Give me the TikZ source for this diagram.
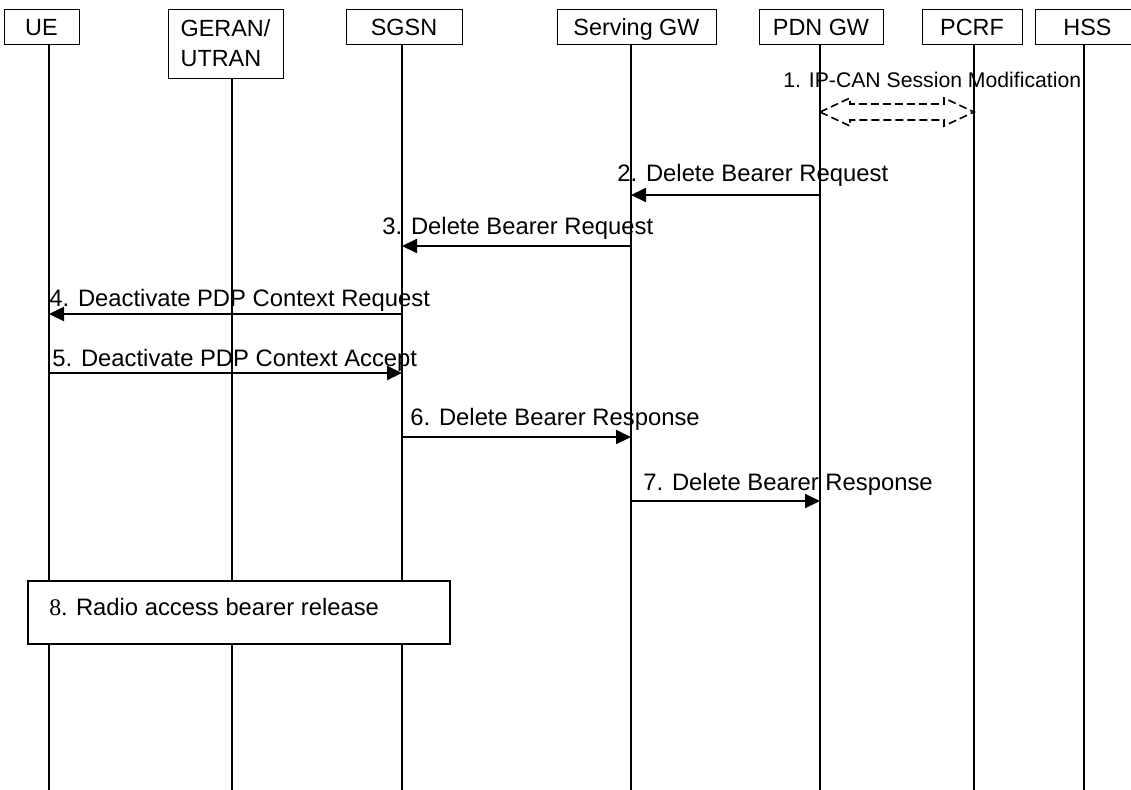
\documentclass[tikz,border=0pt]{standalone}
\usepackage{fontspec}
\setmainfont{Liberation Sans}
\newfontfamily\rabnumfont{Liberation Serif}
\usetikzlibrary{arrows.meta}
\tikzset{%
  myentity/.style={draw=black, line width=0.5pt, minimum height=17.5pt, inner sep=0pt, text height=9pt, text depth=0.5pt, font=\fontsize{11.7}{15}\selectfont},
  mylife/.style={line width=0.8pt},
  mymsg/.style={-{Triangle[length=7.5pt,width=7pt]}, line width=1pt},
  mylabel/.style={anchor=base west, inner sep=0pt, font=\fontsize{11.9}{14}\selectfont},
  mydarrow/.style={dash pattern=on 4pt off 2pt, line width=0.8pt},
  myaction/.style={draw=black, fill=white, line width=0.6pt, minimum width=211pt, minimum height=31.5pt}
}

\begin{document}
\begin{tikzpicture}[x=0.5pt,y=-0.5pt]
  \useasboundingbox (0,0) rectangle (1131,789);
  \node[myentity, minimum width=37.5pt] (ue) at (41.5,26.5) {UE};
  \node[myentity, minimum width=57.5pt, minimum height=34.5pt, text height={}, text depth={}, align=left] (geran) at (225.5,43.5) {GERAN/\\UTRAN};
  \node[myentity, minimum width=58pt] (sgsn) at (404,26.5) {SGSN};
  \node[myentity, minimum width=79.5pt] (sgw) at (636.5,26.5) {Serving GW};
  \node[myentity, minimum width=62pt] (pgw) at (821,26.5) {PDN GW};
  \node[myentity, minimum width=50pt] (pcrf) at (972,26.5) {PCRF};
  \node[myentity, minimum width=52.5pt] (hss) at (1087.5,26.5) {HSS};
  \coordinate (ue-l) at (49,0);
  \coordinate (geran-l) at (232,0);
  \coordinate (sgsn-l) at (402,0);
  \coordinate (sgw-l) at (631,0);
  \coordinate (pgw-l) at (820,0);
  \coordinate (pcrf-l) at (974,0);
  \coordinate (hss-l) at (1084,0);
  \coordinate (bot) at (0,800);
  \draw[mylife] (ue.south -| ue-l) -- (bot -| ue-l);
  \draw[mylife] (geran.south -| geran-l) -- (bot -| geran-l);
  \draw[mylife] (sgsn.south -| sgsn-l) -- (bot -| sgsn-l);
  \draw[mylife] (sgw.south -| sgw-l) -- (bot -| sgw-l);
  \draw[mylife] (pgw.south -| pgw-l) -- (bot -| pgw-l);
  \draw[mylife] (pcrf.south -| pcrf-l) -- (bot -| pcrf-l);
  \draw[mylife] (hss.south -| hss-l) -- (bot -| hss-l);
  \coordinate (m1) at (0,112);
  \coordinate (m2) at (0,195);
  \coordinate (m3) at (0,246);
  \coordinate (m4) at (0,314);
  \coordinate (m5) at (0,373);
  \coordinate (m6) at (0,437);
  \coordinate (m7) at (0,501);
  \node[mylabel, font=\fontsize{10.6}{12}\selectfont] (l1) at (783,87) {1. IP-CAN Session Modification};
  \draw[mydarrow] (m1 -| pgw-l) -- ++(30,-14) -- ++(0,6) -- ++(94,0) -- ++(0,-6) -- ++(30,14)
    -- ++(-30,14) -- ++(0,-6) -- ++(-94,0) -- ++(0,6) -- cycle;
  \node[mylabel] (l2) at (617,181) {2. Delete Bearer Request};
  \draw[mymsg] (m2 -| pgw-l) -- (m2 -| sgw-l);
  \node[mylabel] (l3) at (382,234) {3. Delete Bearer Request};
  \draw[mymsg] (m3 -| sgw-l) -- (m3 -| sgsn-l);
  \node[mylabel] (l4) at (49,306) {4. Deactivate PDP Context Request};
  \draw[mymsg] (m4 -| sgsn-l) -- (m4 -| ue-l);
  \node[mylabel] (l5) at (52,366) {5. Deactivate PDP Context Accept};
  \draw[mymsg] (m5 -| ue-l) -- (m5 -| sgsn-l);
  \node[mylabel] (l6) at (410,425) {6. Delete Bearer Response};
  \draw[mymsg] (m6 -| sgsn-l) -- (m6 -| sgw-l);
  \node[mylabel] (l7) at (643,490) {7. Delete Bearer Response};
  \draw[mymsg] (m7 -| sgw-l) -- (m7 -| pgw-l);
  \node[myaction] (rab) at (239,612.5) {};
  \node[mylabel] (l8) at (49,615) {{\rabnumfont 8.} Radio access bearer release};
\end{tikzpicture}
\end{document}
